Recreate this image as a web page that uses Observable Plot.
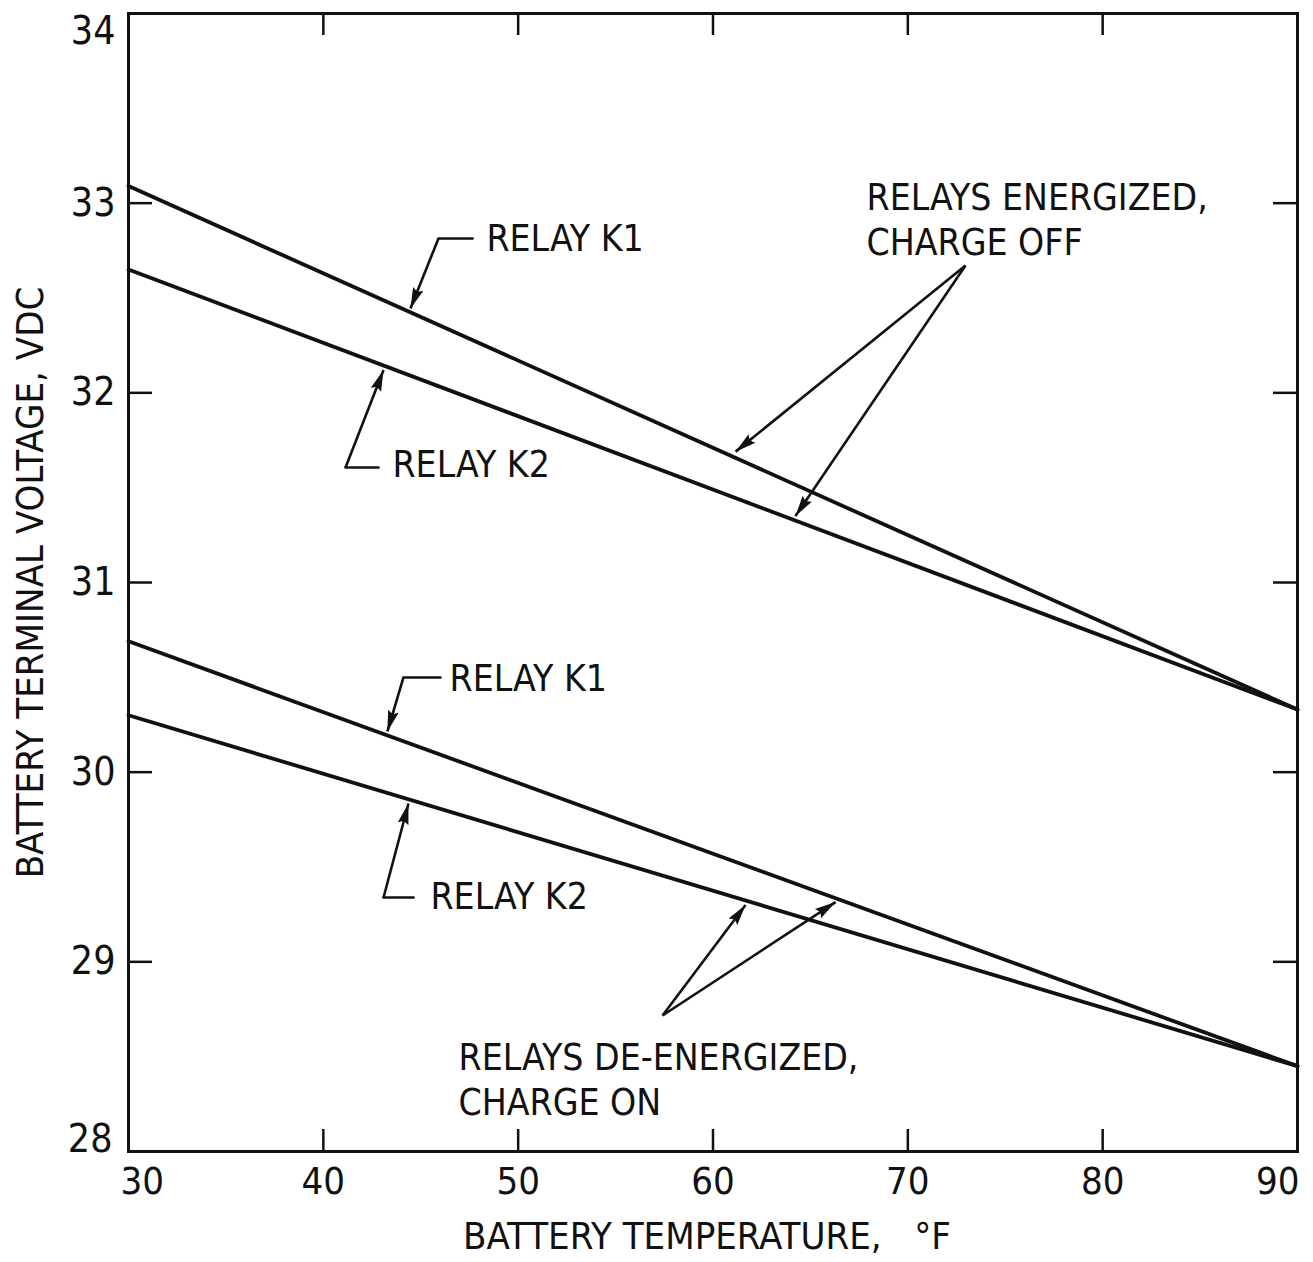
<!DOCTYPE html>
<html>
<head>
<meta charset="utf-8">
<script src="https://cdn.jsdelivr.net/npm/d3@7"></script>
<script src="https://cdn.jsdelivr.net/npm/@observablehq/plot@0.6"></script>
<style>
  html, body { margin: 0; padding: 0; background: #fff; }
</style>
</head>
<body>
<div id="chart"></div>
<script>
// ---- data ----
const temperatures = [30, 90];
const k1Energized = [33.09, 30.33];
const k2Energized = [32.65, 30.33];
const k1DeEnergized = [30.69, 28.45];
const k2DeEnergized = [30.30, 28.45];
const seriesNames = ["K1 energized", "K2 energized", "K1 de-energized", "K2 de-energized"];
const seriesValues = [k1Energized, k2Energized, k1DeEnergized, k2DeEnergized];

const xTickValues = [30, 40, 50, 60, 70, 80, 90];
const yTickValues = [28, 29, 30, 31, 32, 33, 34];
const innerXTicks = [40, 50, 60, 70, 80];
const innerYTicks = [29, 30, 31, 32, 33];

const xTitle = "BATTERY TEMPERATURE,\u00a0\u00a0\u00a0°F";
const yTitle = "BATTERY TERMINAL VOLTAGE, VDC";

// annotation texts (anchored in data units)
const labelTexts = ["RELAY K1", "RELAY K2", "RELAY K1", "RELAY K2"];
const labelT = [48.37, 43.55, 46.48, 45.50];
const labelV = [32.81, 31.62, 30.49, 29.34];

const groupTexts = ["RELAYS ENERGIZED,\nCHARGE OFF", "RELAYS DE-ENERGIZED,\nCHARGE ON"];
const groupT = [67.88, 46.94];
const groupV = [33.135, 28.60];

// leader lines: elbow polylines (last segment carries the arrowhead)
const leaders = [
  {id: "a", pts: [[47.66, 32.814], [45.91, 32.814]], tip: [44.47, 32.445]},
  {id: "b", pts: [[42.83, 31.606], [41.14, 31.606]], tip: [43.09, 32.12]},
  {id: "c", pts: [[46.01, 30.499], [44.11, 30.499]], tip: [43.29, 30.215]},
  {id: "d", pts: [[44.63, 29.339], [43.09, 29.339]], tip: [44.37, 29.835]}
];
const groupArrows = [
  {from: [72.96, 32.671], to: [61.16, 31.69]},
  {from: [72.96, 32.671], to: [64.23, 31.35]},
  {from: [57.41, 28.717], to: [61.67, 29.30]},
  {from: [57.41, 28.717], to: [66.29, 29.315]}
];

// ---- layout ----
const FONT = "'DejaVu Sans Condensed', 'Liberation Sans Narrow', 'DejaVu Sans', sans-serif";
const INK = "#111";
const W = 1313, H = 1262;
const mL = 128, mR = 16, mT = 13, mB = 111;
const fw = W - mL - mR, fh = H - mT - mB;
const TICK = 22;
const kx = fw / 60, ky = fh / 6; // px per unit, used only to orient arrowheads

// ---- derived tables ----
const curves = seriesValues.flatMap((vals, i) =>
  vals.map((v, j) => ({series: seriesNames[i], t: temperatures[j], v})));
const labelRows = labelTexts.map((text, i) => ({text, t: labelT[i], v: labelV[i]}));
const groupRows = groupTexts.map((text, i) => ({text, t: groupT[i], v: groupV[i]}));
const leaderPts = leaders.flatMap(l => l.pts.map(p => ({id: l.id, t: p[0], v: p[1]})));
const shafts = [
  ...leaders.map(l => ({t1: l.pts[1][0], v1: l.pts[1][1], t2: l.tip[0], v2: l.tip[1]})),
  ...groupArrows.map(a => ({t1: a.from[0], v1: a.from[1], t2: a.to[0], v2: a.to[1]}))
].map(s => {
  const dxp = (s.t2 - s.t1) * kx, dyp = -(s.v2 - s.v1) * ky;
  return {...s, angle: Math.atan2(dxp, -dyp) * 180 / Math.PI};
});

// narrow filled arrowhead, tip at the origin, pointing up
const headSymbol = {
  draw(context) {
    context.moveTo(0, 0);
    context.lineTo(-5.5, 21);
    context.lineTo(0, 18);
    context.lineTo(5.5, 21);
    context.closePath();
  }
};

const chart = Plot.plot({
  width: W,
  height: H,
  marginLeft: mL,
  marginRight: mR,
  marginTop: mT,
  marginBottom: mB,
  style: {background: "#fff", fontFamily: FONT, fontSize: "38px", color: INK},
  x: {domain: [30, 90], axis: null},
  y: {domain: [28, 34], axis: null},
  marks: [
    // inward ticks
    Plot.tickX(innerXTicks, {x: d => d, insetTop: fh - TICK, stroke: INK, strokeWidth: 2.5}),
    Plot.tickX(innerXTicks, {x: d => d, insetBottom: fh - TICK, stroke: INK, strokeWidth: 2.5}),
    Plot.tickY(innerYTicks, {y: d => d, insetRight: fw - TICK - 2, stroke: INK, strokeWidth: 2.5}),
    Plot.tickY(innerYTicks, {y: d => d, insetLeft: fw - TICK - 2, stroke: INK, strokeWidth: 2.5}),
    Plot.frame({stroke: INK, strokeWidth: 3}),
    // curves
    Plot.line(curves, {x: "t", y: "v", z: "series", stroke: INK, strokeWidth: 3.8}),
    // leaders and arrows
    Plot.line(leaderPts, {x: "t", y: "v", z: "id", stroke: INK, strokeWidth: 2.6}),
    Plot.link(shafts, {x1: "t1", y1: "v1", x2: "t2", y2: "v2", stroke: INK, strokeWidth: 2.6}),
    Plot.dot(shafts, {x: "t2", y: "v2", rotate: "angle", symbol: headSymbol, fill: INK, stroke: "none", r: 10}),
    // annotation texts
    Plot.text(labelRows, {x: "t", y: "v", text: "text", textAnchor: "start", lineAnchor: "middle", fontSize: 37, fill: INK}),
    Plot.text(groupRows, {x: "t", y: "v", text: "text", textAnchor: "start", lineAnchor: "top", lineHeight: 1.22, fontSize: 37, fill: INK}),
    // x tick labels
    Plot.text(xTickValues.slice(1, -1), {ariaLabel: "ticklabel", x: d => d, text: d => String(d), frameAnchor: "bottom", dy: 30, lineAnchor: "middle", fontSize: 38, fill: INK}),
    Plot.text(xTickValues.slice(0, 1), {ariaLabel: "ticklabel", x: d => d, text: d => String(d), frameAnchor: "bottom", dy: 30, dx: -8, textAnchor: "start", lineAnchor: "middle", fontSize: 38, fill: INK}),
    Plot.text(xTickValues.slice(-1), {ariaLabel: "ticklabel", x: d => d, text: d => String(d), frameAnchor: "bottom", dy: 30, dx: 2, textAnchor: "end", lineAnchor: "middle", fontSize: 38, fill: INK}),
    // y tick labels
    Plot.text(yTickValues.slice(1, -1), {ariaLabel: "ticklabel", y: d => d, text: d => String(d), frameAnchor: "left", dx: -13, textAnchor: "end", lineAnchor: "middle", fontSize: 39, fill: INK}),
    Plot.text(yTickValues.slice(-1), {ariaLabel: "ticklabel", y: d => d, text: d => String(d), frameAnchor: "left", dx: -13, dy: 18, textAnchor: "end", lineAnchor: "middle", fontSize: 39, fill: INK}),
    Plot.text(yTickValues.slice(0, 1), {ariaLabel: "ticklabel", y: d => d, text: d => String(d), frameAnchor: "left", dx: -16, dy: -12, textAnchor: "end", lineAnchor: "middle", fontSize: 39, fill: INK}),
    // axis titles
    Plot.text([xTitle], {text: d => d, frameAnchor: "bottom", dy: 85, dx: -6, lineAnchor: "middle", fontSize: 38, fill: INK}),
    Plot.text([yTitle], {text: d => d, x: () => 30, y: () => 31, dx: -98, rotate: -90, lineAnchor: "middle", fontSize: 38, fill: INK})
  ]
});
document.getElementById("chart").appendChild(chart);

// narrow the numerals, as in the reference lettering
d3.select(chart).selectAll('g[aria-label="ticklabel"] text').each(function () {
  const t = this.getAttribute("transform") || "";
  this.setAttribute("transform", t + " scale(0.85,1)");
});
</script>
</body>
</html>
